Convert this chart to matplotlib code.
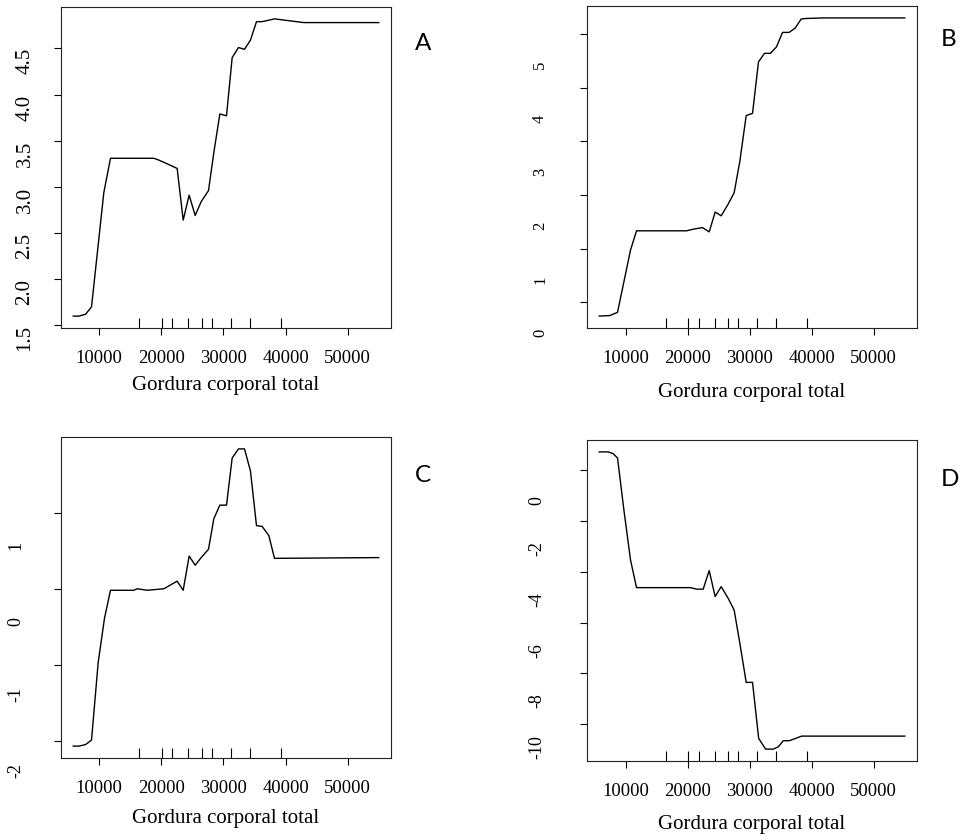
import matplotlib
matplotlib.use("Agg")
import matplotlib.pyplot as plt
from matplotlib.transforms import offset_copy

# Partial dependence on "Gordura corporal total"
x_a = [5880, 6790, 7860, 8820, 10800, 11870, 18840, 19640, 20980, 22580, 23550,
       24510, 25480, 26440, 27620, 28470, 29440, 30510, 31420, 32440, 33400,
       34360, 35330, 36240, 38220, 42930, 54980]
y_a = [1.60, 1.60, 1.62, 1.70, 2.94, 3.31, 3.31, 3.29, 3.25, 3.20, 2.64,
       2.91, 2.69, 2.84, 2.96, 3.37, 3.79, 3.77, 4.40, 4.51, 4.49,
       4.59, 4.79, 4.79, 4.82, 4.78, 4.78]

x_b = [5760, 7480, 8710, 10800, 11770, 19830, 20900, 22400, 23480, 24440, 25410,
       26540, 27500, 28420, 29440, 30460, 31420, 32390, 33360, 34320, 35290,
       36360, 37330, 38300, 39150, 41840, 54990]
y_b = [-0.26, -0.25, -0.19, 0.97, 1.33, 1.33, 1.36, 1.39, 1.31, 1.68, 1.61,
       1.83, 2.04, 2.63, 3.48, 3.52, 4.48, 4.64, 4.64, 4.76, 5.03,
       5.03, 5.11, 5.28, 5.29, 5.30, 5.30]

x_c = [5880, 6790, 7860, 8820, 9890, 10910, 11870, 15620, 16160, 17760, 20440,
       22580, 23550, 24510, 25480, 26440, 27620, 28470, 29440, 30510, 31420,
       32440, 33400, 34360, 35330, 36240, 37310, 38220, 54980]
y_c = [-2.07, -2.07, -2.05, -1.99, -0.97, -0.385, -0.02, -0.02, 0.0, -0.02, 0.0,
       0.10, -0.02, 0.43, 0.31, 0.41, 0.52, 0.92, 1.10, 1.10, 1.72,
       1.84, 1.84, 1.55, 0.83, 0.82, 0.70, 0.40, 0.41]

x_d = [5760, 7210, 8010, 8710, 9730, 10800, 11770, 20470, 21440, 22510, 23480,
       24440, 25410, 26540, 27500, 28420, 29440, 30460, 31450, 32570, 33810,
       34610, 35420, 36380, 37290, 38370, 54990]
y_d = [0.70, 0.70, 0.63, 0.46, -1.57, -3.54, -4.63, -4.63, -4.69, -4.69, -3.96,
       -4.98, -4.59, -5.05, -5.51, -6.82, -8.35, -8.35, -10.55, -10.97, -10.97,
       -10.88, -10.64, -10.64, -10.56, -10.46, -10.46]

# deciles of the predictor (rug marks)
rug_x = [16450, 20100, 21820, 24340, 26530, 28140, 31250, 34310, 39260]

x_ticks = [10000, 20000, 30000, 40000, 50000]
yticks_a = [1.5, 2.0, 2.5, 3.0, 3.5, 4.0, 4.5]
yticks_b = [0, 1, 2, 3, 4, 5]
yticks_c = [-2, -1, 0, 1]
yticks_d = [-10, -8, -6, -4, -2, 0]
ylabels_a = ["1.5", "2.0", "2.5", "3.0", "3.5", "4.0", "4.5"]
ylabels_b = ["0", "1", "2", "3", "4", "5"]
ylabels_c = ["-2", "-1", "0", "1"]
ylabels_d = ["-10", "-8", "-6", "-4", "-2", "0"]

xlabel = "Gordura corporal total"
letters = ["A", "B", "C", "D"]

SERIF = "Liberation Serif"

fig = plt.figure(figsize=(9.62, 8.36), dpi=100)

W, H = 962.0, 836.0


def px_axes(left, top, right, bottom):
    return fig.add_axes([left / W, 1 - bottom / H, (right - left) / W, (bottom - top) / H])


def draw_panel(ax, x, y, yticks, ylabels, lab_dx, lab_dy, lab_size, labelpad):
    ax.plot(x, y, color="black", lw=1.0)
    ax.margins(0.04)

    # rug along the bottom
    ax.vlines(rug_x, 0, 0.03, transform=ax.get_xaxis_transform(), color="black", lw=0.8)

    ax.set_xticks(x_ticks)
    ax.set_xticklabels([str(t) for t in x_ticks], fontsize=13.4, family=SERIF)
    ax.set_yticks(yticks)
    ax.tick_params(axis="both", direction="out", length=5, width=0.8, colors="black")
    ax.tick_params(axis="x", pad=10.5)
    ax.tick_params(axis="y", labelleft=False)

    # y labels are rotated and sit a bit below their ticks, like the original export
    trans = offset_copy(ax.get_yaxis_transform(), fig=fig, x=lab_dx, y=-lab_dy, units="dots")
    for v, s in zip(yticks, ylabels):
        ax.text(0, v, s, transform=trans, rotation=90, ha="center", va="bottom",
                fontsize=lab_size, family=SERIF)

    ax.set_xlabel(xlabel, fontsize=15, family=SERIF, labelpad=labelpad)
    for sp in ax.spines.values():
        sp.set_linewidth(0.8)
        sp.set_color("#222222")


ax_a = px_axes(61, 7, 391, 328)
ax_b = px_axes(587, 6, 917, 328)
ax_c = px_axes(61, 437, 391, 758)
ax_d = px_axes(587, 440, 917, 761)

draw_panel(ax_a, x_a, y_a, yticks_a, ylabels_a, -36, 26, 15, 7)
draw_panel(ax_b, x_b, y_b, yticks_b, ylabels_b, -47, 35, 12, 11.5)
draw_panel(ax_c, x_c, y_c, yticks_c, ylabels_c, -45, 37, 13, 9)
draw_panel(ax_d, x_d, y_d, yticks_d, ylabels_d, -50, 35, 13, 11)

letter_pos = [(423, 44), (949, 39), (423, 475), (950, 480)]
for s, (px, py) in zip(letters, letter_pos):
    fig.text(px / W, 1 - py / H, s, fontsize=17.5, family="Lato", ha="center", va="center")

fig.savefig("out.png", dpi=100, facecolor="white")
